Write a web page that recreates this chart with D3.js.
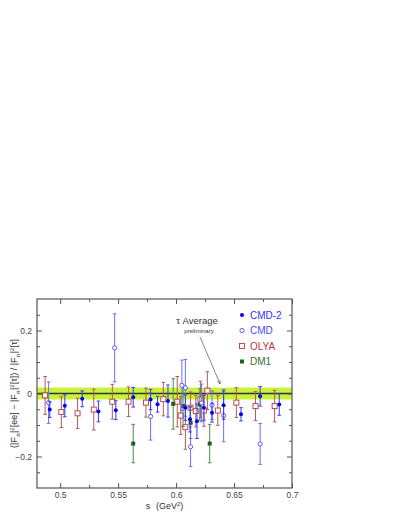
<!DOCTYPE html>
<html>
<head>
<meta charset="utf-8">
<script src="https://cdn.jsdelivr.net/npm/d3@7"></script>
<style>
  body { margin: 0; background: #fff; }
  svg { display: block; font-family: "Liberation Sans", Arial, sans-serif; }
  .axis text { fill: #444; font-size: 8.5px; }
  .axis line { stroke: #555; }
  .axis path { display: none; }
</style>
</head>
<body>
<div id="vis"></div>
<script>
// Chart data: s (GeV^2), relative difference, error
const CMD2_S   = [0.491, 0.504, 0.519, 0.533, 0.548, 0.563, 0.578, 0.584, 0.593, 0.608, 0.612, 0.618, 0.624, 0.631, 0.641, 0.656, 0.6725, 0.689];
const CMD2_V   = [-0.051, -0.039, -0.017, -0.057, -0.053, -0.012, -0.019, -0.034, -0.024, -0.045, -0.082, -0.088, -0.045, -0.061, -0.037, -0.066, -0.009, -0.035];
const CMD2_E   = [0.025, 0.035, 0.025, 0.033, 0.030, 0.031, 0.032, 0.025, 0.051, 0.040, 0.040, 0.055, 0.040, 0.030, 0.045, 0.021, 0.031, 0.034];

const CMD_S    = [0.490, 0.547, 0.578, 0.605, 0.608, 0.6125, 0.622, 0.631, 0.641, 0.6725];
const CMD_V    = [-0.029, 0.145, -0.073, 0.026, 0.018, -0.169, -0.030, -0.037, -0.070, -0.160];
const CMD_E    = [0.066, 0.108, 0.075, 0.080, 0.090, 0.063, 0.060, 0.045, 0.083, 0.065];

const OLYA_S   = [0.487, 0.501, 0.515, 0.529, 0.545, 0.559, 0.574, 0.589, 0.601, 0.604, 0.608, 0.6125, 0.617, 0.621, 0.624, 0.627, 0.636, 0.652, 0.6685, 0.685];
const OLYA_V   = [-0.006, -0.059, -0.063, -0.051, -0.026, -0.026, -0.029, -0.018, -0.026, -0.070, -0.107, -0.045, -0.056, -0.019, -0.054, 0.009, -0.054, -0.029, -0.040, -0.040];
const OLYA_E   = [0.060, 0.049, 0.048, 0.065, 0.055, 0.047, 0.046, 0.053, 0.080, 0.060, 0.070, 0.050, 0.050, 0.058, 0.050, 0.060, 0.047, 0.047, 0.046, 0.050];

const DM1_S    = [0.563, 0.5975, 0.606, 0.6125, 0.6205, 0.629];
const DM1_V    = [-0.159, -0.033, -0.040, -0.093, -0.035, -0.159];
const DM1_E    = [0.061, 0.080, 0.065, 0.050, 0.050, 0.061];

// tau average band
const TAU_AVG = 0;
const TAU_ERR = 0.019;

const X_MAJOR = [0.5, 0.55, 0.6, 0.65, 0.7];
const X_MINOR = [0.525, 0.575, 0.625, 0.675];
const Y_MAJOR = [-0.2, 0, 0.2];
const Y_MINOR = [-0.25, -0.15, -0.1, -0.05, 0.05, 0.1, 0.15, 0.25];

const LEGEND = ["CMD-2", "CMD", "OLYA", "DM1"];

// Frame
const WIDTH = 402, HEIGHT = 521;
const MARGINS = {left: 37, right: 110, top: 299, bottom: 33};

const SVG = d3.select("#vis").append("svg")
  .attr("width", WIDTH)
  .attr("height", HEIGHT);

const X_SCALE = d3.scaleLinear().domain([0.48, 0.7]).range([MARGINS.left, WIDTH - MARGINS.right]);
const Y_SCALE = d3.scaleLinear().domain([-0.3, 0.3]).range([HEIGHT - MARGINS.bottom, MARGINS.top]);

const X0 = X_SCALE.range()[0], X1 = X_SCALE.range()[1];
const Y0 = Y_SCALE.range()[1], Y1 = Y_SCALE.range()[0];

// band + line
SVG.append("rect")
  .attr("x", X0).attr("width", X1 - X0)
  .attr("y", Y_SCALE(TAU_AVG + TAU_ERR))
  .attr("height", Y_SCALE(TAU_AVG - TAU_ERR) - Y_SCALE(TAU_AVG + TAU_ERR))
  .attr("fill", "#c8f23c");

SVG.append("line")
  .attr("x1", X0).attr("x2", X1)
  .attr("y1", Y_SCALE(TAU_AVG)).attr("y2", Y_SCALE(TAU_AVG))
  .attr("stroke", "#333").attr("stroke-width", 1.3);

// Axes (ticks inward)
SVG.append("g").attr("class", "axis")
  .attr("transform", "translate(0," + Y1 + ")")
  .call(d3.axisBottom(X_SCALE).tickValues(X_MAJOR).tickSize(-5).tickPadding(4).tickFormat(d3.format("")));
SVG.append("g").attr("class", "axis")
  .attr("transform", "translate(0," + Y1 + ")")
  .call(d3.axisBottom(X_SCALE).tickValues(X_MINOR).tickSize(-3).tickFormat(""));
SVG.append("g").attr("class", "axis")
  .attr("transform", "translate(0," + Y0 + ")")
  .call(d3.axisTop(X_SCALE).tickValues(X_MAJOR).tickSize(-5).tickFormat(""));
SVG.append("g").attr("class", "axis")
  .attr("transform", "translate(0," + Y0 + ")")
  .call(d3.axisTop(X_SCALE).tickValues(X_MINOR).tickSize(-3).tickFormat(""));

SVG.append("g").attr("class", "axis")
  .attr("transform", "translate(" + X0 + ",0)")
  .call(d3.axisLeft(Y_SCALE).tickValues(Y_MAJOR).tickSize(-5).tickPadding(5).tickFormat(d3.format("")));
SVG.append("g").attr("class", "axis")
  .attr("transform", "translate(" + X0 + ",0)")
  .call(d3.axisLeft(Y_SCALE).tickValues(Y_MINOR).tickSize(-3).tickFormat(""));
SVG.append("g").attr("class", "axis")
  .attr("transform", "translate(" + X1 + ",0)")
  .call(d3.axisRight(Y_SCALE).tickValues(Y_MAJOR).tickSize(-5).tickFormat(""));
SVG.append("g").attr("class", "axis")
  .attr("transform", "translate(" + X1 + ",0)")
  .call(d3.axisRight(Y_SCALE).tickValues(Y_MINOR).tickSize(-3).tickFormat(""));

// frame rect
SVG.append("rect")
  .attr("x", X0).attr("y", Y0)
  .attr("width", X1 - X0).attr("height", Y1 - Y0)
  .attr("fill", "none").attr("stroke", "#555").attr("stroke-width", 1.2);

// error bars + markers
function drawSeries(sVals, vVals, eVals, barColor, drawMarker) {
  const g = SVG.append("g");
  const rows = sVals.map((s, i) => ({s: s, v: vVals[i], e: eVals[i]}));
  g.selectAll("line.bar").data(rows).enter().append("line")
    .attr("x1", d => X_SCALE(d.s)).attr("x2", d => X_SCALE(d.s))
    .attr("y1", d => Y_SCALE(d.v + d.e)).attr("y2", d => Y_SCALE(d.v - d.e))
    .attr("stroke", barColor).attr("stroke-width", 1);
  [1, -1].forEach(sign => {
    g.selectAll("line.cap" + sign).data(rows).enter().append("line")
      .attr("x1", d => X_SCALE(d.s) - 1.8).attr("x2", d => X_SCALE(d.s) + 1.8)
      .attr("y1", d => Y_SCALE(d.v + sign * d.e)).attr("y2", d => Y_SCALE(d.v + sign * d.e))
      .attr("stroke", barColor).attr("stroke-width", 1);
  });
  drawMarker(g.selectAll("mark").data(rows).enter());
}

function filledCircle(color) {
  return sel => sel.append("circle")
    .attr("cx", d => X_SCALE(d.s)).attr("cy", d => Y_SCALE(d.v))
    .attr("r", 2).attr("fill", color);
}
function openCircle(color) {
  return sel => sel.append("circle")
    .attr("cx", d => X_SCALE(d.s)).attr("cy", d => Y_SCALE(d.v))
    .attr("r", 2.1).attr("fill", "#fff").attr("stroke", color).attr("stroke-width", 0.9);
}
function openSquare(color) {
  return sel => sel.append("rect")
    .attr("x", d => X_SCALE(d.s) - 2.5).attr("y", d => Y_SCALE(d.v) - 2.5)
    .attr("width", 5).attr("height", 5)
    .attr("fill", "#fff").attr("stroke", color).attr("stroke-width", 0.9);
}
function filledSquare(color) {
  return sel => sel.append("rect")
    .attr("x", d => X_SCALE(d.s) - 2).attr("y", d => Y_SCALE(d.v) - 2)
    .attr("width", 4).attr("height", 4).attr("fill", color);
}

drawSeries(OLYA_S, OLYA_V, OLYA_E, "#b45a5a", openSquare("#b33a3a"));
drawSeries(DM1_S, DM1_V, DM1_E, "#4f8a4f", filledSquare("#1f5f1f"));
drawSeries(CMD_S, CMD_V, CMD_E, "#6f6ff5", openCircle("#4a4aff"));
drawSeries(CMD2_S, CMD2_V, CMD2_E, "#3a3af0", filledCircle("#0000ee"));

// legend
const LEGEND_COLORS = ["#2f2fff", "#4a4aff", "#b33a3a", "#2f6f2f"];
const LEGEND_MARKERS = [filledCircle("#0000ee"), openCircle("#4a4aff"), openSquare("#b33a3a"), filledSquare("#1f5f1f")];
const LEGEND_Y = d3.scalePoint().domain(LEGEND).range([315, 361.5]);
const LEG = SVG.append("g");
LEGEND.forEach((name, i) => {
  const mk = LEG.append("g").attr("transform", "translate(242," + LEGEND_Y(name) + ")");
  LEGEND_MARKERS[i](mk.selectAll("m").data([{s: X_SCALE.invert(0), v: Y_SCALE.invert(0)}]).enter());
  LEG.append("text")
    .attr("x", 250).attr("y", LEGEND_Y(name) + 3.5)
    .attr("fill", LEGEND_COLORS[i])
    .attr("font-size", "10px")
    .text(name);
});

// annotation
SVG.append("text")
  .attr("x", 197).attr("y", 324)
  .attr("text-anchor", "middle")
  .attr("font-size", "9.5px").attr("fill", "#333")
  .text("τ Average");
SVG.append("text")
  .attr("x", 199).attr("y", 333)
  .attr("text-anchor", "middle")
  .attr("font-size", "6px").attr("fill", "#333")
  .text("preliminary");

SVG.append("defs").append("marker")
  .attr("id", "arrow").attr("viewBox", "0 0 10 10")
  .attr("refX", 10).attr("refY", 5)
  .attr("markerWidth", 6).attr("markerHeight", 6)
  .attr("orient", "auto")
  .append("path").attr("d", "M0,1 L10,5 L0,9").attr("fill", "none").attr("stroke", "#444").attr("stroke-width", 1.2);

SVG.append("line")
  .attr("x1", 200).attr("y1", 337)
  .attr("x2", X_SCALE(0.638)).attr("y2", Y_SCALE(0.03))
  .attr("stroke", "#555").attr("stroke-width", 0.7)
  .attr("marker-end", "url(#arrow)");

// axis labels
SVG.append("text")
  .attr("x", 148).attr("y", 509)
  .attr("text-anchor", "middle")
  .attr("font-size", "9px").attr("fill", "#333")
  .text("s");
const XL = SVG.append("text")
  .attr("x", 156).attr("y", 509)
  .attr("font-size", "9px").attr("fill", "#333");
XL.append("tspan").text("(GeV");
XL.append("tspan").attr("dy", -3.5).attr("font-size", "6px").text("2");
XL.append("tspan").attr("dy", 3.5).text(")");

const YL = SVG.append("text")
  .attr("transform", "translate(17," + Y_SCALE(0) + ") rotate(-90)")
  .attr("text-anchor", "middle")
  .attr("font-size", "9px").attr("fill", "#333");
let pendingDy = 0;
function part(txt, dy, size) {
  const t = YL.append("tspan").attr("dy", dy + pendingDy).text(txt);
  if (size) t.attr("font-size", size);
  pendingDy = -dy;
}
function ff() {
  part("|F", 0);
  part("π", 2.5, "6px");
  part("|", 0);
  part("2", -3.5, "6px");
}
part("(", 0);
ff();
part("[ee] − ", 0);
ff();
part("[τ]) / ", 0);
ff();
part("[τ]", 0);
</script>
</body>
</html>
